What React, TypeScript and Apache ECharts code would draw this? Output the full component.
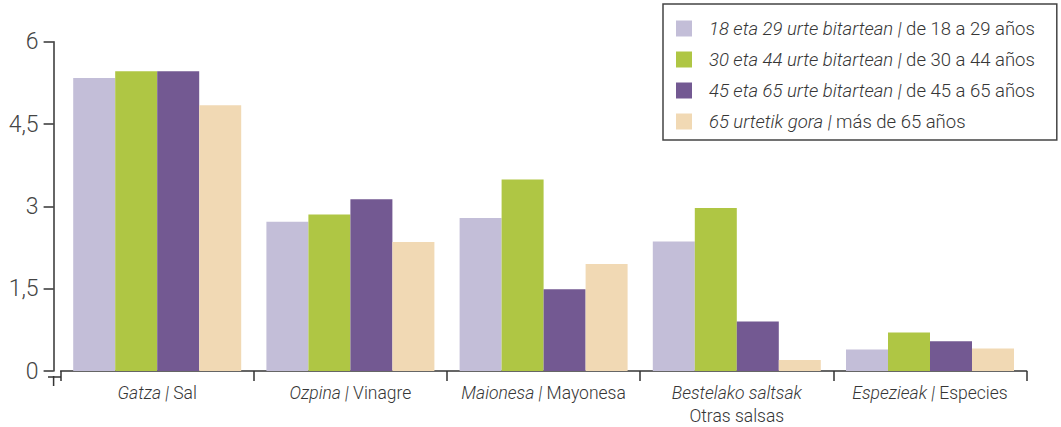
import React, { useEffect, useRef } from "react";
import * as echarts from "echarts";

const catEu = ["Gatza", "Ozpina", "Maionesa", "Bestelako saltsak", "Espezieak"];
const catEs = ["Sal", "Vinagre", "Mayonesa", "Otras salsas", "Especies"];
const categories = ["0", "1", "2", "3", "4"];

const seriesNames = [
  "18 eta 29 urte bitartean | de 18 a 29 años",
  "30 eta 44 urte bitartean | de 30 a 44 años",
  "45 eta 65 urte bitartean | de 45 a 65 años",
  "65 urtetik gora | más de 65 años",
];
const colors = ["#c3bed8", "#afc644", "#735992", "#f1d9b4"];

const v18to29 = [5.34, 2.72, 2.79, 2.36, 0.39];
const v30to44 = [5.46, 2.85, 3.49, 2.97, 0.7];
const v45to65 = [5.46, 3.13, 1.49, 0.9, 0.54];
const v65plus = [4.84, 2.35, 1.95, 0.2, 0.41];
const seriesValues = [v18to29, v30to44, v45to65, v65plus];

const yMin = 0;
const yMax = 6;
const yInterval = 1.5;

const FONT = "Roboto, 'Open Sans', sans-serif";
const TXT = "#363636";

export default function App() {
  const ref = useRef<HTMLDivElement>(null);
  useEffect(() => {
    if (!ref.current) return;
    const chart = echarts.init(ref.current, null, { renderer: "svg" });
    chart.setOption({
      animation: false,
      backgroundColor: "#ffffff",
      textStyle: { fontFamily: FONT },
      grid: { left: 60.6, right: 34.4, top: 41.7, bottom: 50 },
      legend: {
        orient: "vertical",
        left: 663,
        top: 4,
        itemWidth: 16,
        itemHeight: 16,
        itemGap: 12,
        padding: [15, 22, 9, 13],
        borderColor: "#444",
        borderWidth: 1.5,
        borderRadius: 0,
        icon: "rect",
        data: seriesNames,
        formatter: (name: string) => {
          const [eu, es] = name.split(" | ");
          return `{i|${eu} |}{n| ${es}}`;
        },
        textStyle: {
          color: TXT,
          fontSize: 18.5,
          fontWeight: 300,
          rich: {
            i: { fontStyle: "italic", fontSize: 18.5, fontWeight: 300, color: TXT, fontFamily: FONT, padding: [0, 0, 0, 12] },
            n: { fontSize: 18.5, fontWeight: 300, color: TXT, fontFamily: FONT },
          },
        },
      },
      xAxis: {
        type: "category",
        data: categories,
        boundaryGap: true,
        axisLine: { lineStyle: { color: "#333", width: 1.5 } },
        axisTick: { show: true, length: 10, alignWithLabel: false, lineStyle: { color: "#333", width: 1.5 } },
        axisLabel: {
          margin: 10,
          interval: 0,
          lineHeight: 23,
          formatter: (v: string) => {
            const i = Number(v);
            if (i === 3) return `{i|${catEu[i]}}\n{n|${catEs[i]}}`;
            return `{i|${catEu[i]} |}{n| ${catEs[i]}}`;
          },
          rich: {
            i: { fontStyle: "italic", fontSize: 17.5, fontWeight: 300, color: TXT, fontFamily: FONT, lineHeight: 23 },
            n: { fontSize: 17.5, fontWeight: 300, color: TXT, fontFamily: FONT, lineHeight: 23 },
          },
        },
      },
      yAxis: {
        type: "value",
        min: yMin,
        max: yMax,
        interval: yInterval,
        offset: 7,
        splitLine: { show: false },
        axisLine: { show: true, lineStyle: { color: "#333", width: 1.5 } },
        axisTick: { show: true, length: 10, lineStyle: { color: "#333", width: 1.5 } },
        axisLabel: {
          margin: 15,
          color: "#444",
          fontSize: 23,
          fontWeight: 300,
          fontFamily: FONT,
          formatter: (v: number) => String(v).replace(".", ","),
        },
      },
      graphic: [
        { type: "line", shape: { x1: 48, y1: 377, x2: 61, y2: 377 }, style: { stroke: "#333", lineWidth: 1.5 } },
        { type: "line", shape: { x1: 53.6, y1: 376, x2: 53.6, y2: 386 }, style: { stroke: "#333", lineWidth: 1.5 } },
      ],
      series: seriesValues.map((vals, k) => ({
        type: "bar",
        name: seriesNames[k],
        data: vals,
        barWidth: 42,
        barGap: "0%",
        itemStyle: { color: colors[k] },
      })),
    });
    return () => chart.dispose();
  }, []);
  return (
    <div
      ref={ref}
      style={{ position: "fixed", left: 0, top: 0, width: 1061, height: 427, background: "#fff" }}
    />
  );
}
